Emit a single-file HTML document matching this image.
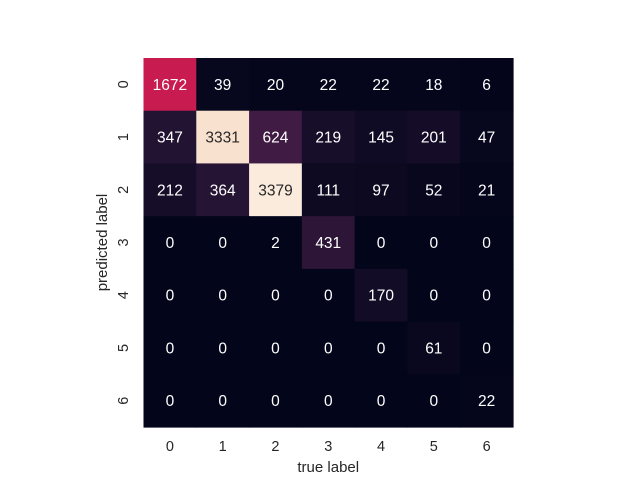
<!DOCTYPE html>
<html><head><meta charset="utf-8"><style>
html,body{margin:0;padding:0;background:#fff;}
svg{display:block;font-family:"Liberation Sans",Arial,sans-serif;}
</style></head><body>
<svg id="chart" width="640" height="480" viewBox="0 0 640 480"></svg>
<script>
const trueLabels = ["0","1","2","3","4","5","6"];
const predLabels = ["0","1","2","3","4","5","6"];
const row0 = [1672,39,20,22,22,18,6];
const row1 = [347,3331,624,219,145,201,47];
const row2 = [212,364,3379,111,97,52,21];
const row3 = [0,0,2,431,0,0,0];
const row4 = [0,0,0,0,170,0,0];
const row5 = [0,0,0,0,0,61,0];
const row6 = [0,0,0,0,0,0,22];
const matrix = [row0,row1,row2,row3,row4,row5,row6];

const NS="http://www.w3.org/2000/svg";
const svg=document.getElementById('chart');
const X0=143.5, Y0=58, W=369.5, H=369;
const n=trueLabels.length;
const cw=W/n, ch=H/predLabels.length;
const xPos=i=>X0+i*cw, yPos=j=>Y0+j*ch;
let vmax=0; matrix.forEach(r=>r.forEach(v=>{if(v>vmax)vmax=v;}));
const stops=[[0,[3,5,26]],[0.1,[34,19,49]],[0.2,[69,28,71]],[0.3,[106,31,86]],[0.4,[146,28,91]],[0.5,[203,27,79]],[0.6,[217,40,71]],[0.7,[237,80,62]],[0.8,[244,125,87]],[0.9,[246,164,127]],[1,[250,235,221]]];
function cmap(t){t=Math.max(0,Math.min(1,t));for(let k=1;k<stops.length;k++){if(t<=stops[k][0]){const a=stops[k-1],b=stops[k];const f=(t-a[0])/(b[0]-a[0]);const c=a[1].map((v,i)=>Math.round(v+(b[1][i]-v)*f));return c;}}return stops[stops.length-1][1];}
function mk(tag,attrs,txt){const e=document.createElementNS(NS,tag);for(const k in attrs)e.setAttribute(k,attrs[k]);if(txt!==undefined)e.textContent=txt;svg.appendChild(e);return e;}
matrix.forEach((row,j)=>row.forEach((v,i)=>{
  const c=cmap(v/vmax);
  const r=mk('rect',{x:xPos(i),y:yPos(j),width:cw+0.6,height:ch+0.6,fill:`rgb(${c.join(',')})`});
  
  
  const lum=(0.299*c[0]+0.587*c[1]+0.114*c[2])/255;
  const t=mk('text',{x:xPos(i)+cw/2,y:yPos(j)+ch/2+5.5,'text-anchor':'middle','font-size':'15.5',fill:lum>0.6?'#262626':'#ffffff'},String(v));
  
  
}));
trueLabels.forEach((l,i)=>{
  const t=mk('text',{x:xPos(i)+cw/2,y:451,'text-anchor':'middle','font-size':'14.5',fill:'#262626'},l);
  
  
});
predLabels.forEach((l,j)=>{
  const cy=yPos(j)+ch/2, cx=123;
  const t=mk('text',{x:cx,y:cy+5,'text-anchor':'middle','font-size':'14.5',fill:'#262626',transform:`rotate(-90 ${cx} ${cy})`},l);
  
  
});
const xt=mk('text',{x:X0+W/2,y:472,'text-anchor':'middle','font-size':'15',fill:'#262626'},'true label');


const yc=Y0+H/2;
const yt=mk('text',{x:102,y:yc+5,'text-anchor':'middle','font-size':'15',fill:'#262626',transform:`rotate(-90 102 ${yc})`},'predicted label');


</script>
</body></html>
